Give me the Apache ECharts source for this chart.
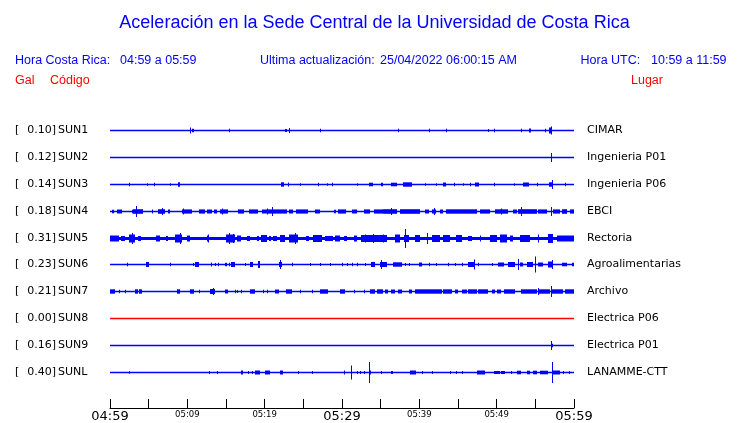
<!DOCTYPE html>
<html><head><meta charset="utf-8">
<script src="https://cdn.jsdelivr.net/npm/echarts@6/dist/echarts.min.js"></script>
<style>html,body{margin:0;padding:0;background:#fff}#c{width:740px;height:423px}</style>
</head><body><div id="c"></div>
<script>
// ---- data ----
const titleText = 'Aceleración en la Sede Central de la Universidad de Costa Rica';
const codes = ['SUN1','SUN2','SUN3','SUN4','SUN5','SUN6','SUN7','SUN8','SUN9','SUNL'];
const galValues = [0.10, 0.12, 0.14, 0.18, 0.31, 0.23, 0.21, 0.00, 0.16, 0.40];
const places = ['CIMAR','Ingenieria P01','Ingenieria P06','EBCI','Rectoria','Agroalimentarias','Archivo','Electrica P06','Electrica P01','LANAMME-CTT'];
const stationActive = [true,true,true,true,true,true,true,false,true,true];
// minutes after 04:59, one tick every 5 minutes
const tickLabels = ['04:59','','05:09','','05:19','','05:29','','05:39','','05:49','','05:59'];
const majorLabels = ['04:59','05:29','05:59'];

// events: [start minute, end minute, relative amplitude]
const sun1Events = [[10.3,10.4,2.5],[10.6,10.9,1.2],[15.4,15.4,1.3],[22.6,22.9,1],[23.1,23.3,2],[27.2,27.2,1.3],
  [37.3,37.3,1.3],[41.3,41.3,1.3],[43.5,43.5,1.3],[48.9,48.9,1],[49.7,49.7,1.3],[53.2,53.2,1.3],[54.2,54.5,1.5],
  [56.2,56.2,1.3],[56.8,57.2,2.5],[57.0,57.0,3.5]];
const sun2Events = [[57.0,57.0,4]];
const sun3Events = [[2.5,2.5,1.3],[4.8,4.8,0.8],[5.7,5.7,1.3],[7.7,7.7,0.8],[8.8,9.1,1.7],[22.1,22.5,1.7],[23.0,23.2,1.5],
  [24.6,24.6,0.8],[26.9,26.9,1.3],[28.0,28.0,0.8],[28.7,28.7,1.3],[31.9,31.9,0.8],[33.5,34.0,1.3],[35.1,35.3,1.3],
  [36.4,37.1,1.3],[37.9,39.1,1.7],[40.7,40.7,0.8],[42.1,42.1,0.8],[43.1,43.4,1.5],[44.5,44.5,1.3],[45.7,45.7,0.8],
  [46.5,46.5,1.3],[47.2,47.7,1.5],[49.7,49.7,1.3],[52.2,52.2,0.8],[53.4,54.2,1.5],[55.2,55.2,1.3],[56.8,57.3,1.7],
  [57.1,57.1,4],[58.9,58.9,1.3]];
const sun4Events = [[0.3,0.5,1.3],[0.9,1.6,1.5],[2.8,2.8,1.3],[3.0,4.3,1.8],[3.4,3.4,5],[5.4,5.6,1.5],[6.2,7.1,1.8],
  [6.7,6.7,3],[7.5,7.8,1.5],[9.3,10.6,1.6],[9.4,9.4,2.5],[11.5,12.3,1.6],[12.6,13.2,1.5],[13.4,13.8,1.5],[14.2,15.3,1.6],
  [14.5,14.5,2.5],[16.5,17.3,1.6],[18.0,19.2,1.6],[19.7,20.3,1.5],[20.3,20.3,2.5],[20.3,22.9,1.6],[21.0,21.0,4],
  [23.1,23.7,1.5],[24.1,25.6,1.6],[26.5,27.2,1.5],[29.0,29.2,1.3],[29.5,30.5,1.6],[31.3,31.9,1.5],[32.8,33.6,1.6],
  [34.2,35.3,1.6],[35.3,37.1,1.8],[36.4,36.4,3],[37.5,40.1,1.8],[40.7,41.2,1.5],[41.6,42.2,1.6],[41.9,41.9,3],
  [42.7,43.1,1.5],[43.5,47.4,1.7],[47.9,49.1,1.6],[49.8,51.5,1.7],[50.5,50.5,2.5],[52.1,52.6,1.5],[52.8,55.2,1.8],
  [53.2,53.2,4],[55.4,56.5,1.6],[57.0,57.0,4],[57.3,58.2,1.6],[58.4,59.1,1.8],[59.5,60,1.6]];
const sun5Events = [[0,60,1],[0,1.1,2.5],[1.4,1.9,2],[2.4,3.2,3.5],[2.8,2.8,5],[3.6,4.0,2],[6.0,6.5,2.5],[7.3,7.5,2],
  [8.4,9.3,3.5],[9.0,9.0,5],[10.0,10.4,2.5],[12.5,12.8,2.5],[12.7,12.7,3.5],[15.0,16.2,3.5],[15.4,15.4,5],[15.9,15.9,4],
  [16.4,17.0,2.5],[17.7,18.1,2],[19.0,19.3,2],[19.5,20.3,3],[20.5,20.8,2],[21.1,21.6,2],[22.0,22.6,3],[23.1,24.3,3.5],
  [23.9,23.9,5],[25.4,25.7,2],[26.3,27.4,3],[27.8,28.9,2],[29.1,29.7,2.5],[30.2,30.6,2],[31.5,31.9,2.5],[32.5,35.8,3],
  [33.0,33.0,3.5],[34.0,34.0,4],[35.3,35.3,3.5],[36.9,37.5,3.5],[38.0,38.6,3],[38.2,38.2,9],[39.4,40.1,3],[41.0,41.0,5],
  [41.6,42.7,3],[43.1,44.0,3],[44.8,45.5,3],[46.3,46.8,2],[47.8,48.0,2.5],[49.1,50.0,3],[50.4,51.3,3.5],[51.7,52.1,2.5],
  [53.0,54.3,3],[55.4,55.4,3.5],[56.7,57.3,4],[57.8,60,2.5]];
const sun6Events = [[2.2,2.2,1.3],[4.7,5.1,2],[7.8,7.8,1.3],[10.7,10.7,1],[11.0,11.5,2],[13.0,13.2,1.5],[13.6,13.6,1],
  [14.0,14.0,1.3],[14.9,15.1,1.3],[15.4,15.4,1.3],[15.6,16.1,2],[17.5,17.5,1],[18.1,18.5,2],[19.2,19.4,3],[21.8,22.2,2],
  [22.0,22.0,4],[23.5,23.5,1.3],[25.9,25.9,1],[27.2,27.2,1],[28.4,28.4,1],[30.0,30.0,1.3],[30.6,30.6,1],[31.3,31.3,1.3],
  [31.9,31.9,1.3],[33.0,33.0,1],[33.8,34.3,2],[34.9,35.8,2],[35.1,35.1,4],[36.6,37.7,1.7],[38.1,38.1,1],[38.6,38.6,1],
  [39.9,40.3,1.5],[41.2,41.4,1.3],[42.2,42.2,1],[43.7,43.7,1.3],[44.6,44.6,1],[45.5,45.7,1.3],[46.3,47.2,2],[47.1,47.1,4.5],
  [47.6,47.6,1.3],[49.4,49.4,1],[50.2,50.9,1.5],[51.5,52.4,2],[52.7,52.7,5],[53.0,53.4,1.5],[53.9,54.7,2],[54.9,54.9,7.5],
  [55.4,56.0,1.5],[56.7,57.3,2.5],[57.1,57.1,4],[58.4,59.1,1.3],[59.7,60,1.3]];
const sun7Events = [[0,0.6,1.7],[1.1,1.1,1.3],[1.9,1.9,1.3],[3.2,3.6,1.7],[3.8,4.1,1.7],[8.6,9.1,1.7],[10.3,10.8,1.7],
  [11.5,11.5,1.3],[12.9,13.6,2],[13.3,13.3,3],[14.9,15.2,1.5],[16.2,16.2,1.3],[16.4,16.4,1],[17.0,17.0,1.3],[18.1,18.7,1.7],
  [19.8,19.8,1.3],[20.3,20.3,1.3],[21.3,21.8,1.5],[22.8,23.5,1.7],[24.6,24.6,1.3],[26.1,26.1,1.3],[27.2,28.2,1.7],
  [29.7,30.4,1.7],[31.5,31.5,1.3],[32.8,32.8,1.3],[33.6,34.3,1.7],[34.5,35.3,1.7],[35.6,35.9,1.5],[36.4,36.9,1.5],
  [37.3,37.7,1.5],[38.6,39.0,1.5],[39.4,42.9,1.7],[43.1,44.2,1.7],[44.6,45.0,1.5],[45.5,46.1,1.5],[46.3,47.4,1.7],
  [47.6,48.9,1.7],[49.4,49.8,1.5],[50.0,50.6,1.5],[50.9,52.4,1.7],[53.2,55.2,1.7],[55.3,55.3,3],[55.4,56.9,1.7],
  [57.0,57.0,5],[57.1,58.6,1.7],[58.8,60,1.7]];
const sun8Events = [];
const sun9Events = [[57.0,57.0,4],[57.1,57.3,1.3]];
const sunlEvents = [[2.5,2.5,0.8],[12.8,12.8,1],[13.8,13.8,1],[16.9,17.2,1.5],[17.9,17.9,1],[18.3,18.3,1],[18.8,19.4,1.5],
  [20.0,20.7,1.5],[22.0,22.4,1.5],[24.3,24.3,1],[26.1,26.1,1],[30.2,30.4,1.5],[31.1,31.1,6.5],[31.9,31.9,1],[32.3,32.3,1],
  [32.8,32.8,1],[33.5,33.5,10],[33.6,33.8,1.5],[35.1,35.1,1],[36.4,36.6,1],[38.8,39.6,1.5],[40.3,40.3,1],[41.6,41.6,1],
  [44.0,44.0,1],[44.8,44.8,1],[45.5,45.5,1],[47.4,48.5,1.5],[49.6,50.4,1],[50.6,51.1,1],[51.9,51.9,1],[52.6,53.2,1.3],
  [53.9,54.3,1.3],[54.7,55.2,1.3],[55.6,56.7,1.3],[57.1,57.1,10],[57.2,58.2,1.5],[58.6,58.6,1],[59.3,59.3,1]];
const allEvents = [sun1Events,sun2Events,sun3Events,sun4Events,sun5Events,sun6Events,sun7Events,sun8Events,sun9Events,sunlEvents];

// ---- styles ----
const BLUE = '#0000ff', RED = '#ff0000';
const HEAD_FONT = '"Liberation Sans", Arial, sans-serif';
const TRACE_FONT = '"DejaVu Sans", sans-serif';
const AMP_TO_ROW = 1 / 27; // relative amplitude unit -> row units

// build items: [row, t0, t1, amp, active]
const traceData = [];
const baseData = [];
codes.forEach((c, i) => {
  const row = i + 1;
  baseData.push([row, 0, 60, 0, stationActive[i] ? 1 : 0]);
  allEvents[i].forEach(e => traceData.push([row, e[0], e[1], e[2], stationActive[i] ? 1 : 0]));
});

function renderBase(params, api) {
  const row = api.value(0);
  const color = api.value(4) ? BLUE : RED;
  const p0 = api.coord([api.value(1), row]);
  const p1 = api.coord([api.value(2), row]);
  const yc = Math.round(p0[1]);
  return { type: 'rect', shape: { x: Math.round(p0[0]), y: yc - 0.25, width: Math.round(p1[0]) - Math.round(p0[0]), height: 1.5 },
    style: { fill: color }, silent: true };
}

function renderTrace(params, api) {
  const row = api.value(0), t0 = api.value(1), t1 = api.value(2), amp = api.value(3);
  const color = api.value(4) ? BLUE : RED;
  const p0 = api.coord([t0, row]);
  const p1 = api.coord([t1, row]);
  const ampPx = api.size([0, amp * AMP_TO_ROW])[1];
  const x0 = Math.round(p0[0]);
  const w = Math.max(1, Math.round(p1[0]) - x0);
  const yc = Math.round(p0[1]);
  return { type: 'rect', shape: { x: x0, y: yc - ampPx, width: w, height: 2 * ampPx + 1 },
    style: { fill: color }, silent: true };
}

function renderLabel(params, api) {
  const i = params.dataIndex;
  const row = api.value(0);
  const p = api.coord([0, row]);
  const pe = api.coord([60, row]);
  const yc = Math.round(p[1]) + 0.5;
  const gal = galValues[i].toFixed(2);
  return { type: 'group', children: [
    { type: 'text', x: 15, y: yc, style: { text: '[', font: '11px ' + TRACE_FONT, fill: '#000', textVerticalAlign: 'middle' } },
    { type: 'text', x: 56, y: yc, style: { text: gal + ']', font: '11px ' + TRACE_FONT, fill: '#000', textAlign: 'right', textVerticalAlign: 'middle' } },
    { type: 'text', x: 58, y: yc, style: { text: codes[i], font: '11px ' + TRACE_FONT, fill: '#000', textVerticalAlign: 'middle' } },
    { type: 'text', x: pe[0] + 13, y: yc, style: { text: places[i], font: '11px ' + TRACE_FONT, fill: '#000', textVerticalAlign: 'middle' } }
  ]};
}

const chart = echarts.init(document.getElementById('c'), null, { renderer: 'canvas' });
chart.setOption({
  animation: false,
  backgroundColor: '#fff',
  grid: { left: 110, right: 166, top: 103, bottom: 23, containLabel: false },
  xAxis: {
    type: 'value', position: 'bottom', min: 0, max: 60, interval: 5, offset: 9,
    axisLine: { onZero: false, lineStyle: { color: '#000', width: 1 } },
    axisTick: { inside: true, length: 9, lineStyle: { color: '#000' } },
    splitLine: { show: false },
    axisLabel: {
      margin: 2, showMinLabel: true, showMaxLabel: true, color: '#000',
      formatter: v => {
        const s = tickLabels[Math.round(v / 5)] || '';
        if (!s) return '';
        return majorLabels.indexOf(s) >= 0 ? '{big|' + s + '}' : '{small|' + s + '}';
      },
      rich: {
        big: { fontFamily: TRACE_FONT, fontSize: 13, color: '#000' },
        small: { fontFamily: TRACE_FONT, fontSize: 8.5, color: '#000' }
      }
    }
  },
  yAxis: { type: 'value', min: 0, max: 11, inverse: true, show: false, splitLine: { show: false } },
  graphic: [
    { type: 'text', x: 374.5, y: 23, style: { text: titleText, font: '18px ' + HEAD_FONT, fill: BLUE, textAlign: 'center', textVerticalAlign: 'middle' } },
    { type: 'text', x: 15, y: 60.5, style: { text: 'Hora Costa Rica:', font: '12.5px ' + HEAD_FONT, fill: BLUE, textVerticalAlign: 'middle' } },
    { type: 'text', x: 120, y: 60.5, style: { text: '04:59 a 05:59', font: '12.5px ' + HEAD_FONT, fill: BLUE, textVerticalAlign: 'middle' } },
    { type: 'text', x: 260, y: 60.5, style: { text: 'Ultima actualización:', font: '12.5px ' + HEAD_FONT, fill: BLUE, textVerticalAlign: 'middle' } },
    { type: 'text', x: 380, y: 60.5, style: { text: '25/04/2022 06:00:15 AM', font: '12.5px ' + HEAD_FONT, fill: BLUE, textVerticalAlign: 'middle' } },
    { type: 'text', x: 580.5, y: 60.5, style: { text: 'Hora UTC:', font: '12.5px ' + HEAD_FONT, fill: BLUE, textVerticalAlign: 'middle' } },
    { type: 'text', x: 651, y: 60.5, style: { text: '10:59 a 11:59', font: '12.5px ' + HEAD_FONT, fill: BLUE, textVerticalAlign: 'middle' } },
    { type: 'text', x: 15, y: 80.5, style: { text: 'Gal', font: '12.5px ' + HEAD_FONT, fill: RED, textVerticalAlign: 'middle' } },
    { type: 'text', x: 50, y: 80.5, style: { text: 'Código', font: '12.5px ' + HEAD_FONT, fill: RED, textVerticalAlign: 'middle' } },
    { type: 'text', x: 631, y: 80.5, style: { text: 'Lugar', font: '12.5px ' + HEAD_FONT, fill: RED, textVerticalAlign: 'middle' } }
  ],
  series: [
    { type: 'custom', name: 'baseline', renderItem: renderBase, data: baseData, clip: false, z: 2 },
    { type: 'custom', name: 'traces', renderItem: renderTrace, data: traceData, clip: false, z: 3 },
    { type: 'custom', name: 'labels', renderItem: renderLabel, data: baseData, clip: false, z: 4 }
  ]
});
</script></body></html>
